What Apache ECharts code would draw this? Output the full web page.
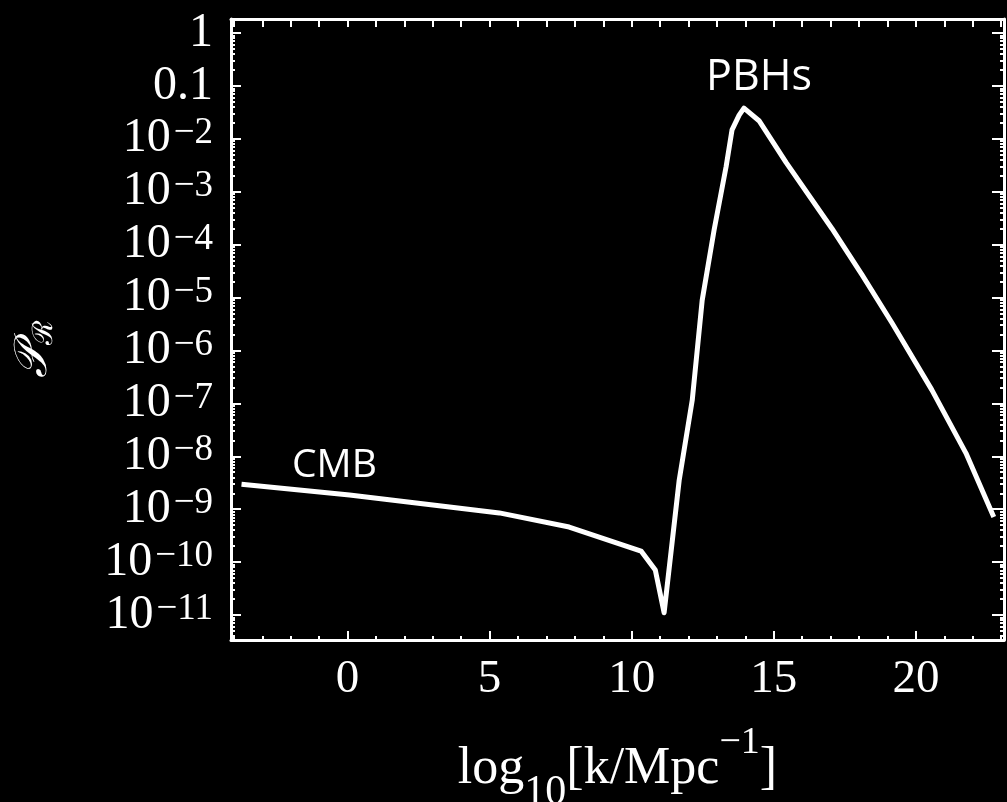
<!DOCTYPE html>
<html><head><meta charset="utf-8">
<script src="https://cdn.jsdelivr.net/npm/echarts@6/dist/echarts.min.js"></script>
<style>html,body{margin:0;padding:0;background:#000}#c{width:1007px;height:802px}</style>
</head><body><div id="c"></div>
<script>
// log10 of wavenumber k [Mpc^-1]
const logK = [-3.73, 0.07, 3.59, 5.34, 7.80, 10.33, 10.83, 11.14, 11.67, 12.13, 12.48, 12.90, 13.32, 13.53, 13.78, 13.95, 14.48, 15.43, 17.05, 18.10, 19.16, 20.56, 21.76, 22.74];
// curvature power spectrum P_R
const powerSpectrum = [2.95e-9, 1.86e-9, 1.10e-9, 8.5e-10, 4.6e-10, 1.62e-10, 7.1e-11, 1.1e-11, 3.5e-9, 1.15e-7, 8.9e-6, 1.9e-4, 2.95e-3, 1.48e-2, 2.8e-2, 3.8e-2, 2.2e-2, 3.6e-3, 2.0e-4, 2.7e-5, 3.3e-6, 1.8e-7, 1.15e-8, 7.1e-10];

const annotationText = ['CMB', 'PBHs'];
const annotationK = [-0.46, 14.48];
const annotationP = [6.6e-9, 0.144];

const xRange = [-4.1, 23.1];
const yRange = [3.37e-12, 1.84];          // P_R range of the frame
const xLabelTicks = [0, 5, 10, 15, 20];
const xAllTicks = [-4, -3, -2, -1, 0, 1, 2, 3, 4, 5, 6, 7, 8, 9, 10, 11, 12, 13, 14, 15, 16, 17, 18, 19, 20, 21, 22, 23];
const xMinorTicks = xAllTicks.filter(v => v % 5 !== 0);
const yDecades = [0, -1, -2, -3, -4, -5, -6, -7, -8, -9, -10, -11];
const yTickLabels = ['1', '0.1', '10{s|−2}', '10{s|−3}', '10{s|−4}', '10{s|−5}', '10{s|−6}', '10{s|−7}', '10{s|−8}', '10{s|−9}', '10{s|−10}', '10{s|−11}'];

// logarithmic vertical scale: the value axis carries log10(P_R)
const lg = v => Math.log10(v);
const yMin = lg(yRange[0]), yMax = lg(yRange[1]);
const yMinorTicks = [];
for (let e = -12; e <= 0; e++) for (let m = 2; m <= 9; m++) {
  const v = lg(m) + e;
  if (v > yMin && v < yMax) yMinorTicks.push(v);
}

const W = '#ffffff';
const serif = 'Liberation Serif';
const chart = echarts.init(document.getElementById('c'));

function tickAxisX(grid, pos, ticks, len, showLine) {
  return {
    gridIndex: grid, type: 'value', position: pos, min: xRange[0], max: xRange[1],
    axisLine: { show: showLine, onZero: false, lineStyle: { color: W, width: 3 } },
    axisTick: { show: true, inside: true, length: len, customValues: ticks, lineStyle: { color: W, width: 2 } },
    axisLabel: { show: false }, splitLine: { show: false }
  };
}
function tickAxisY(grid, pos, ticks, len, showLine) {
  return {
    gridIndex: grid, type: 'value', position: pos, min: yMin, max: yMax,
    axisLine: { show: showLine, onZero: false, lineStyle: { color: W, width: 3 } },
    axisTick: { show: true, inside: true, length: len, customValues: ticks, lineStyle: { color: W, width: 2 } },
    axisLabel: { show: false }, splitLine: { show: false }
  };
}

const xMain = tickAxisX(0, 'bottom', xLabelTicks, 9, true);
xMain.axisLabel = { show: true, customValues: xLabelTicks, showMinLabel: true, showMaxLabel: true, color: W, fontFamily: serif, fontSize: 47, margin: 16 };
xMain.name = 'log{sub|10}[k/Mpc{sup|−1}]';
xMain.nameLocation = 'middle';
xMain.nameGap = 84;
xMain.nameTextStyle = {
  color: W, fontFamily: serif, fontSize: 52, lineHeight: 90,
  rich: {
    sub: { color: W, fontFamily: serif, fontSize: 42, lineHeight: 18, verticalAlign: 'bottom' },
    sup: { color: W, fontFamily: serif, fontSize: 38, lineHeight: 26, verticalAlign: 'top' }
  }
};

const yMain = tickAxisY(0, 'left', yDecades, 10, true);
yMain.axisLabel = {
  show: true, customValues: yDecades, showMinLabel: true, showMaxLabel: true, hideOverlap: false,
  color: W, fontFamily: serif, fontSize: 48, lineHeight: 48, margin: 18,
  formatter: function (v) { return yTickLabels[-Math.round(v)]; },
  rich: { s: { color: W, fontFamily: serif, fontSize: 37, lineHeight: 11, verticalAlign: 'top', padding: [0, 0, 0, 3] } }
};
yMain.name = '{p|𝒫}{r|ℛ}';
yMain.nameLocation = 'middle';
yMain.nameGap = 172;
yMain.nameTextStyle = {
  color: W, padding: [0, 40, 0, 0],
  rich: {
    p: { color: W, fontFamily: 'DejaVu Serif', fontSize: 46, lineHeight: 50, fontStyle: 'italic' },
    r: { color: W, fontFamily: 'DejaVu Serif', fontSize: 28, lineHeight: 28, verticalAlign: 'bottom' }
  }
};

const gridBox = { left: 231, right: 3, top: 19, bottom: 162, show: false, containLabel: false, outerBoundsMode: 'none' };

chart.setOption({
  backgroundColor: '#000000',
  animation: false,
  grid: [Object.assign({}, gridBox), Object.assign({}, gridBox)],
  xAxis: [
    xMain,
    tickAxisX(0, 'top', xAllTicks, 8, true),
    tickAxisX(1, 'bottom', xMinorTicks, 4, false)
  ],
  yAxis: [
    yMain,
    tickAxisY(0, 'right', yDecades, 12, true),
    tickAxisY(1, 'left', yMinorTicks, 4, false),
    tickAxisY(1, 'right', yMinorTicks, 4, false)
  ],
  series: [
    {
      type: 'line', xAxisIndex: 0, yAxisIndex: 0,
      data: logK.map((k, i) => [k, lg(powerSpectrum[i])]),
      showSymbol: false, symbol: 'none', smooth: false,
      lineStyle: { color: W, width: 5, join: 'round' }, itemStyle: { color: W }
    },
    {
      type: 'scatter', xAxisIndex: 0, yAxisIndex: 0,
      symbolSize: 1, itemStyle: { color: 'rgba(0,0,0,0)', opacity: 1 },
      data: annotationText.map((t, i) => ({
        value: [annotationK[i], lg(annotationP[i])],
        label: { fontSize: i === 0 ? 39 : 43 }
      })),
      label: {
        show: true, position: 'inside', color: W, opacity: 1, textBorderWidth: 0, fontFamily: 'Open Sans',
        formatter: p => annotationText[p.dataIndex]
      }
    }
  ]
});
</script></body></html>
